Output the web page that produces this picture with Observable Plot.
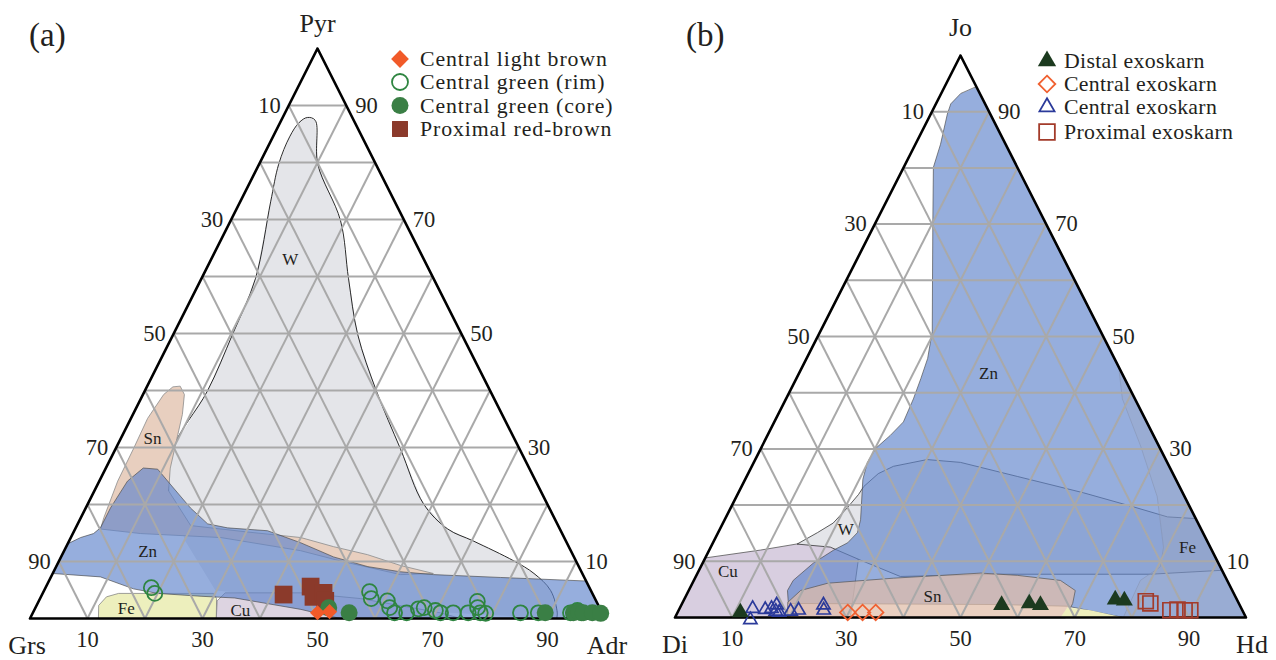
<!DOCTYPE html>
<html><head><meta charset="utf-8">
<script src="https://cdn.jsdelivr.net/npm/d3@7"></script>
<script src="https://cdn.jsdelivr.net/npm/@observablehq/plot@0.6"></script>
<style>
body{margin:0;background:#fff;}
#wrap{position:relative;width:1276px;height:660px;display:flex;}
#wrap svg{display:block;}
#legend{position:absolute;left:0;top:0;pointer-events:none;}
</style></head><body><div id="wrap"></div>
<script>
// ---------- DATA (ternary: [right-vertex %, top-vertex %]) ----------
const tickLabels = [10, 30, 50, 70, 90];
const gridSteps = [10, 20, 30, 40, 50, 60, 70, 80, 90];

// Panel (a): Grs - Adr - Pyr, points as [Adr, Pyr]
const aW = [[4.3,87.9],[5.9,87.4],[10.2,79.7],[19.1,69.8],[25.6,59.6],[32.1,49.8],[40.3,39.9],[49.6,29.7],[58.4,20.1],[64.8,15.7],[70.3,13.6],[79.1,10.1],[83.7,7.9],[88.1,4.9],[91.2,1.0],[91.6,0],[72.6,1.0],[50.7,3.1],[29.8,4.9],[20.2,13.6],[12.9,22.4],[9.95,29.7],[10.9,39.9],[10.3,49.8],[9.4,59.6],[5.3,73.1],[3.4,79.7],[2.9,84.5],[3.3,87.0]];
const aSn = [[5.8,40.7],[7.2,39.3],[8.6,35.8],[9.9,31.1],[11.2,26.4],[12.9,22.4],[19.8,16.3],[30,15.2],[40.0,14.2],[46.5,12.6],[53.1,11.2],[59.8,9.3],[66.2,7.9],[60.6,7.7],[48.9,10.1],[41.1,11.9],[26.1,14.2],[11.8,14.9],[4.4,15.7],[4.0,17.7],[3.2,24.1],[3.1,29.9],[2.9,35.1],[3.6,39.3],[4.5,40.6]];
const aFe = [[11.9,0],[10.8,2.3],[11.4,3.8],[13.2,4.4],[29.7,4.4],[30.7,3.5],[32.4,0]];
const aCu = [[32.4,0],[31.0,3.1],[31.7,4.5],[44.8,4.5],[55.7,3.5],[70.9,1.0],[74.9,0]];
const aZn = [[0,13.1],[1.7,14.2],[3.6,14.9],[4.3,15.9],[4.3,19.4],[4.9,24.1],[6.5,26.4],[9.1,26.2],[13.5,22.9],[18.2,19.4],[22.6,16.6],[26.4,15.9],[33.6,15.4],[40.4,13.3],[47.4,10.8],[54.2,9.1],[60.3,8.2],[66.3,7.7],[78.2,7.2],[92.9,6.6],[93.4,6.6],[100,0],[54.0,0],[49.6,0.9],[46.3,1.6],[33.8,3.6],[27.8,3.9],[20.0,4.4],[15.4,5.2],[8.6,7.3],[0,7.9]];
const aRegionNames = [{n:"W",p:[13.8,62.9]},{n:"Sn",p:[5.5,31.6]},{n:"Zn",p:[14.6,11.7]},{n:"Fe",p:[15.9,1.7]},{n:"Cu",p:[35.9,1.4]}];

const aLightBrown = [[49.5,1.0],[51.5,1.2]];
const aGreenRim = [[18.4,5.4],[19.5,4.4],[56.7,4.7],[57.6,3.5],[60.6,3.1],[61.6,1.9],[62.9,1.0],[65.0,1.0],[66.7,1.7],[67.6,1.9],[69.8,1.4],[70.9,1.0],[73.1,1.0],[75.7,1.0],[76.3,3.0],[76.9,1.9],[77.8,1.0],[78.8,0.9],[84.8,1.0],[87.9,1.0],[93.5,1.0],[94.5,1.4],[95.4,1.0]];
const aGreenCore = [[51.0,1.9],[55.0,1.0],[89.1,1.0],[94.0,1.0],[94.8,1.2],[95.7,1.0],[97.3,1.0],[98.8,0.9]];
const aRedBrown = [[42.0,4.2],[46.0,5.6],[47.4,3.8],[48.8,4.5],[49.8,3.1]];

// Panel (b): Di - Hd - Jo, points as [Hd, Jo]
const bCu = [[0,0],[0,10.6],[9.0,12.0],[14.9,13.1],[24.2,14.2],[27.0,10.2],[30.7,0]];
const bW = [[14.9,13.1],[17.4,15.1],[19.3,16.8],[20.4,19.5],[21.2,21.9],[21.4,23.3],[22.8,25.6],[24.8,26.9],[30.1,28.1],[36.2,27.6],[47.4,25.1],[60.4,22.2],[70.4,19.7],[77.3,17.9],[82.4,17.6],[91.6,8.4],[79.4,7.7],[53.1,7.7],[35.8,7.3],[27.4,10.2],[21.0,12.5]];
const bZn = [[5.6,94.4],[100,0],[78.5,0],[67.8,2.0],[55.8,2.3],[18.6,2.5],[17.3,4.8],[17.4,6.6],[19.4,9.7],[21.8,12.0],[23.6,13.3],[24.4,15.1],[23.8,17.4],[20.6,24.6],[19.9,27.6],[20.1,30.1],[21.5,32.4],[22.6,34.8],[22.3,38.9],[21.8,42.5],[21.2,46.1],[19.6,50.9],[10.2,69.9],[5.2,80.1],[4.4,84.2],[2.9,89.6],[2.6,91.4],[3.4,93.2]];
const bSn = [[19.7,0],[18.4,2.7],[19.6,4.8],[23.7,6.1],[34.8,7.0],[49.6,7.9],[56.2,7.5],[64.2,6.6],[67.7,4.8],[68.4,2.5],[68.4,0.7],[68.4,0]];
const bFe = [[55.4,44.6],[58.9,38.9],[66.3,30.5],[73.7,21.5],[79.3,12.5],[80.5,9.0],[78.2,6.6],[78.5,0],[100,0]];
const bYellow = [[67.5,0],[67.8,1.8],[72.1,1.3],[78.5,0]];
const bRegionNames = [{n:"Zn",p:[33.2,43.4]},{n:"W",p:[22.1,15.6]},{n:"Cu",p:[5.2,8.1]},{n:"Sn",p:[43.2,3.8]},{n:"Fe",p:[83.5,12.5]}];

const bDistal = [[11.0,0.9],[56.1,2.2],[60.8,2.5],[62.9,2.2],[75.5,3.2],[77.2,3.0]];
const bCentralOrange = [[29.8,0.9],[32.4,0.9],[34.7,0.9]];
const bCentralBlue = [[12.8,1.6],[13.4,-0.4],[15.1,1.4],[16.1,1.6],[16.7,2.2],[17.1,1.1],[17.8,0.9],[19.7,1.1],[21.0,1.3],[24.9,2.2],[25.4,1.3]];
const bProximal = [[81.0,2.9],[82.0,2.5],[86.1,1.3],[87.3,1.4],[88.6,1.3],[89.6,1.3]];

const legendA = [
  {label:"Central light brown", symbol:"diamond2", fill:"#f15a29", stroke:"none", r:8},
  {label:"Central green (rim)", symbol:"circle", fill:"none", stroke:"#2e8540", r:8},
  {label:"Central green (core)", symbol:"circle", fill:"#3a7f45", stroke:"none", r:8.5},
  {label:"Proximal red-brown", symbol:"square", fill:"#8b3a2b", stroke:"none", r:9}
];
const legendB = [
  {label:"Distal exoskarn", symbol:"triangle", fill:"#1c3a1f", stroke:"none", r:6.8},
  {label:"Central exoskarn", symbol:"diamond2", fill:"none", stroke:"#f06030", r:7.5},
  {label:"Central exoskarn", symbol:"triangle2", fill:"none", stroke:"#2b3a9a", r:7.2},
  {label:"Proximal exoskarn", symbol:"square2", fill:"none", stroke:"#a33b2a", r:10}
];

// ---------- helpers ----------
const FONT = '"Liberation Serif","Times New Roman",serif';
const INK = "#231f20";
const tx = d => (d[0] + d[1] / 2) / 100;
const ty = d => d[1] / 100;
const outline = [[0,0],[100,0],[0,100]];

function gridLinks() {
  const out = [];
  for (const k of gridSteps) {
    out.push({a:[0,k], b:[100-k,k]});       // top component = k
    out.push({a:[k,0], b:[k,100-k]});       // right component = k
    out.push({a:[100-k,0], b:[0,100-k]});   // left component = k
  }
  return out;
}
const region = (pts, o) => Plot.line(pts, {x: tx, y: ty, curve: "linear-closed", ...o});
const ZN = {fill: "#5e83cb", fillOpacity: 0.65, stroke: "#444", strokeWidth: 0.8, strokeOpacity: 0.8};

function ternary(cfg) {
  return Plot.plot({
    width: 638, height: 660,
    marginLeft: cfg.ml, marginRight: cfg.mr, marginTop: cfg.mt, marginBottom: cfg.mb,
    x: {domain: [0, 1], axis: null},
    y: {domain: [0, 1], axis: null},
    style: {fontFamily: FONT, background: "transparent", overflow: "visible", color: INK},
    marks: [
      ...cfg.regions,
      Plot.link(gridLinks(), {x1: d => tx(d.a), y1: d => ty(d.a), x2: d => tx(d.b), y2: d => ty(d.b), stroke: "#a9a9a9", strokeWidth: 2}),
      Plot.line(outline, {x: tx, y: ty, curve: "linear-closed", stroke: "#000", strokeWidth: 2.6}),
      Plot.text(cfg.names, {x: d => tx(d.p), y: d => ty(d.p), text: "n", fontSize: 17, fill: INK}),
      ...cfg.points,
      Plot.text(tickLabels, {x: t => (100 - t) / 200, y: t => (100 - t) / 100, text: t => String(t), textAnchor: "end", dx: -8, fontSize: 22.5, fill: INK}),
      Plot.text(tickLabels, {x: t => (100 - t / 2) / 100, y: t => t / 100, text: t => String(t), textAnchor: "start", dx: 9, fontSize: 22.5, fill: INK}),
      Plot.text(tickLabels, {x: t => t / 100, y: () => 0, text: t => String(t), dy: 21, fontSize: 22.5, fill: INK}),
      Plot.text([cfg.vleft], {x: () => 0, y: () => 0, text: d => d, dy: 27, dx: cfg.vleftDx, fontSize: 26, fill: INK}),
      Plot.text([cfg.vright], {x: () => 1, y: () => 0, text: d => d, dy: 27, dx: cfg.vrightDx, fontSize: 26, fill: INK}),
      Plot.text([cfg.vtop], {x: () => 0.5, y: () => 1, text: d => d, dy: cfg.vtopDy, fontSize: 26, fill: INK}),
      Plot.text([cfg.letter], {frameAnchor: "top-left", text: d => d, textAnchor: "start", lineAnchor: "middle", dx: cfg.letterDx, dy: cfg.letterDy, fontSize: 33, fill: INK})
    ]
  });
}

const chartA = ternary({
  ml: 29.5, mr: 33.5, mt: 48, mb: 42,
  letter: "(a)", letterDx: -1, letterDy: -13,
  vtop: "Pyr", vtopDy: -25, vleft: "Grs", vleftDx: -3, vright: "Adr", vrightDx: 2,
  names: aRegionNames,
  regions: [
    region(aW, {fill: "#e4e5e9", stroke: "none"}),
    Plot.line(aW.slice(20).concat(aW.slice(0, 16)), {x: tx, y: ty, curve: "catmull-rom", stroke: "#111", strokeWidth: 0.9}),
    region(aSn, {fill: "#e8cfbf", stroke: "#8a8a8a", strokeWidth: 0.8}),
    region(aFe, {fill: "#edefbd", stroke: "#777", strokeWidth: 0.7}),
    region(aCu, {fill: "#ddd4e1", stroke: "#777", strokeWidth: 0.7}),
    region(aZn, ZN)
  ],
  points: [
    Plot.dot(aRedBrown, {x: tx, y: ty, symbol: "square", r: 10, fill: "#8b3a2b"}),
    Plot.dot(aGreenRim, {x: tx, y: ty, symbol: "circle", r: 7.5, fill: "none", stroke: "#2e8540", strokeWidth: 1.8}),
    Plot.dot(aGreenCore, {x: tx, y: ty, symbol: "circle", r: 8.5, fill: "#3a7f45"}),
    Plot.dot(aLightBrown, {x: tx, y: ty, symbol: "diamond2", r: 6.8, fill: "#f15a29"})
  ]
});

const chartB = ternary({
  ml: 36.5, mr: 30.5, mt: 55, mb: 43,
  letter: "(b)", letterDx: 11, letterDy: -20,
  vtop: "Jo", vtopDy: -28, vleft: "Di", vleftDx: 0, vright: "Hd", vrightDx: 6,
  names: bRegionNames,
  regions: [
    region(bCu, {fill: "#d8cee0", stroke: "#555", strokeWidth: 0.8}),
    region(bW, {fill: "#e4e5e9", stroke: "#333", strokeWidth: 0.8}),
    region(bZn, ZN),
    region(bSn, {fill: "#e0bca8", fillOpacity: 0.72, stroke: "#555", strokeWidth: 0.7}),
    region(bFe, {fill: "#a3a8b6", fillOpacity: 0.25, stroke: "#8590ad", strokeWidth: 0.5}),
    region(bYellow, {fill: "#eeeebc", stroke: "none"})
  ],
  points: [
    Plot.dot(bCentralBlue, {x: tx, y: ty, symbol: "triangle2", r: 6.3, fill: "none", stroke: "#2b3a9a", strokeWidth: 1.7}),
    Plot.dot(bCentralOrange, {x: tx, y: ty, symbol: "diamond2", r: 7, fill: "none", stroke: "#f06030", strokeWidth: 1.7}),
    Plot.dot(bProximal, {x: tx, y: ty, symbol: "square2", r: 9.5, fill: "none", stroke: "#a33b2a", strokeWidth: 1.7}),
    Plot.dot(bDistal, {x: tx, y: ty, symbol: "triangle", r: 6.3, fill: "#1c3a1f"})
  ]
});

const wrap = document.getElementById("wrap");
wrap.append(chartA, chartB);

// ---------- legends ----------
const symMap = {circle: d3.symbolCircle, diamond2: d3.symbolDiamond2, square: d3.symbolSquare, square2: d3.symbolSquare2, triangle: d3.symbolTriangle, triangle2: d3.symbolTriangle2};
const svg = d3.select(wrap).append("svg").attr("id", "legend").attr("width", 1276).attr("height", 660);
function drawLegend(items, mx, tx0, rows, fs, ls) {
  items.forEach((it, i) => {
    svg.append("path")
      .attr("transform", `translate(${mx},${rows[i]})`)
      .attr("d", d3.symbol(symMap[it.symbol], Math.PI * it.r * it.r)())
      .attr("fill", it.fill).attr("stroke", it.stroke).attr("stroke-width", 1.8);
    svg.append("text").attr("x", tx0).attr("y", rows[i]).attr("dy", "0.34em")
      .attr("font-family", FONT).attr("font-size", fs).attr("letter-spacing", ls).attr("fill", INK).text(it.label);
  });
}
drawLegend(legendA, 400, 420, [59, 82, 105.5, 129], 21.8, "0.9px");
drawLegend(legendB, 1047, 1064, [61, 84, 107, 132], 21.8, "0.3px");
</script></body></html>
